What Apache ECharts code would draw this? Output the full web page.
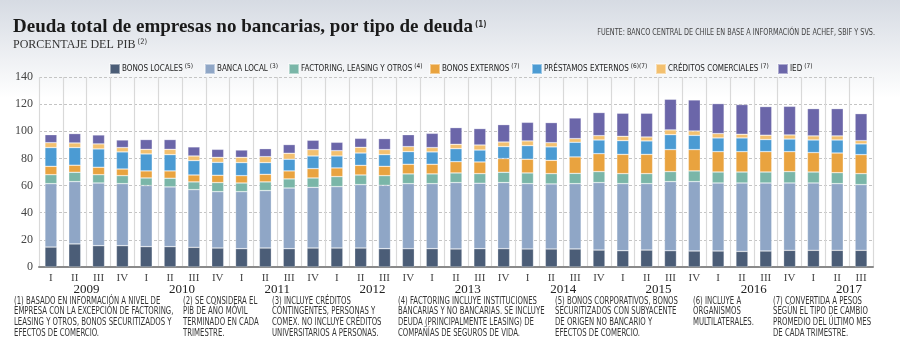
<!DOCTYPE html>
<html>
<head>
<meta charset="utf-8">
<script src="https://cdn.jsdelivr.net/npm/echarts@6/dist/echarts.min.js"></script>
<style>
  html, body { margin: 0; padding: 0; background: #fff; }
  #chart { width: 900px; height: 350px; }
</style>
</head>
<body>
<div id="chart"></div>
<script>
// trimestres 2009 I - 2017 III
const quarters = ['I','II','III','IV','I','II','III','IV','I','II','III','IV','I','II','III','IV','I','II','III','IV',
  'I','II','III','IV','I','II','III','IV','I','II','III','IV','I','II','III'];
const years = ['2009','2009','2009','2009','2010','2010','2010','2010','2011','2011','2011','2011','2012','2012','2012','2012',
  '2013','2013','2013','2013','2014','2014','2014','2014','2015','2015','2015','2015','2016','2016','2016','2016','2017','2017','2017'];

// porcentaje del PIB, por tipo de deuda
const bonosLocales = [14.7,17.0,15.7,15.7,15.0,15.0,14.5,14.0,13.5,14.0,13.5,14.0,14.0,14.0,13.5,13.5,
  13.5,13.3,13.5,13.5,13.3,13.3,13.3,12.5,12.0,12.5,12.0,11.8,11.8,11.5,11.8,12.3,12.3,12.3,12.3];
const bancaLocal = [46.7,45.9,46.2,45.7,45.0,44.0,42.5,41.5,42.0,42.3,44.7,44.7,45.2,46.7,46.7,47.9,
  47.9,48.9,48.2,48.7,48.1,47.9,48.1,49.7,49.4,48.9,50.9,51.1,50.1,50.4,50.1,49.6,49.6,49.1,48.4];
const factoring = [6.6,6.9,6.1,5.9,5.6,6.4,5.7,6.7,6.4,6.4,6.7,6.9,7.4,7.1,7.1,7.2,
  7.2,7.1,7.1,7.6,7.9,7.6,7.6,8.1,7.4,7.4,7.4,7.9,8.1,8.1,8.1,8.4,8.1,8.1,8.1];
const bonosExternos = [6.2,5.2,5.5,4.9,5.2,5.4,5.1,5.4,5.4,5.6,5.9,6.9,6.4,7.1,6.9,7.1,
  7.1,8.3,8.6,10.1,10.1,9.8,12.1,13.2,14.2,14.2,16.2,15.7,15.0,15.0,15.0,14.7,14.3,14.5,14.0];
const prestamosExternos = [13.8,13.0,13.5,12.6,12.5,12.0,10.6,9.5,9.6,8.6,8.6,9.3,8.8,9.1,8.6,9.3,
  9.1,9.6,8.8,8.8,10.0,9.9,10.8,10.1,10.1,9.9,11.0,10.5,10.1,10.1,8.9,9.3,9.3,9.6,7.9];
const creditosComerciales = [3.6,3.4,3.7,3.2,3.4,3.9,3.4,3.7,3.9,4.4,4.4,4.7,3.9,4.2,3.7,3.7,
  3.2,3.2,3.7,3.4,3.5,3.1,2.7,3.2,3.2,2.9,3.5,3.2,3.2,2.7,3.2,3.0,3.0,3.0,2.4];
const ied = [5.9,6.9,6.6,5.6,7.2,7.2,6.7,5.9,5.4,5.9,6.4,6.9,6.2,6.6,8.1,8.8,
  10.5,12.3,12.1,12.8,13.7,14.8,15.2,17.0,17.0,17.5,22.6,22.9,22.1,21.9,21.1,21.1,20.1,20.1,19.9];

const seriesNames = ['BONOS LOCALES','BANCA LOCAL','FACTORING, LEASING Y OTROS','BONOS EXTERNOS','PRÉSTAMOS EXTERNOS','CRÉDITOS COMERCIALES','IED'];
const seriesNotes = ['(5)','(3)','(4)','(7)','(6)(7)','(7)','(7)'];
const seriesColors = ['#4b5d77','#8fa6c6','#7ab6a8','#e9a33f','#4b9bd3','#f3c06f','#6b66a9'];
const seriesData = [bonosLocales, bancaLocal, factoring, bonosExternos, prestamosExternos, creditosComerciales, ied];
const legendX = [104, 199, 283, 424, 526, 650, 772];

const footnotes = [
  '(1) BASADO EN INFORMACIÓN A NIVEL DE\nEMPRESA CON LA EXCEPCIÓN DE FACTORING,\nLEASING Y OTROS, BONOS SECURITIZADOS Y\nEFECTOS DE COMERCIO.',
  '(2) SE CONSIDERA EL\nPIB DE AÑO MÓVIL\nTERMINADO EN CADA\nTRIMESTRE.',
  '(3) INCLUYE CRÉDITOS\nCONTINGENTES, PERSONAS Y\nCOMEX. NO INCLUYE CRÉDITOS\nUNIVERSITARIOS A PERSONAS.',
  '(4) FACTORING INCLUYE INSTITUCIONES\nBANCARIAS Y NO BANCARIAS. SE INCLUYE\nDEUDA (PRINCIPALMENTE LEASING) DE\nCOMPAÑÍAS DE SEGUROS DE VIDA.',
  '(5) BONOS CORPORATIVOS, BONOS\nSECURITIZADOS CON SUBYACENTE\nDE ORIGEN NO BANCARIO Y\nEFECTOS DE COMERCIO.',
  '(6) INCLUYE A\nORGANISMOS\nMULTILATERALES.',
  '(7) CONVERTIDA A PESOS\nSEGÚN EL TIPO DE CAMBIO\nPROMEDIO DEL ÚLTIMO MES\nDE CADA TRIMESTRE.'
];
const footnoteX = [14, 183, 272, 398, 555, 693, 773];
const fuente = 'FUENTE: BANCO CENTRAL DE CHILE EN BASE A INFORMACIÓN DE ACHEF, SBIF Y SVS.';

const narrow = '"Liberation Sans Narrow", "DejaVu Sans Condensed", sans-serif';
const serif = '"Liberation Serif", "DejaVu Serif", serif';

const chart = echarts.init(document.getElementById('chart'));

// una leyenda por serie para poder ubicarlas como en el original
const legends = seriesNames.map((name, k) => ({
  left: legendX[k], top: 58,
  itemWidth: 10, itemHeight: 10,
  icon: 'rect',
  data: [name],
  formatter: n => '{t|' + n + '}{s|' + seriesNotes[k] + '}',
  textStyle: {
    padding: [0, 0, 0, -3],
    rich: {
      t: { fontFamily: narrow, fontSize: 8, color: '#222' },
      s: { fontFamily: narrow, fontSize: 6.5, color: '#222', padding: [0, 0, 5, 2] }
    }
  }
}));

const option = {
  animation: false,
  title: [
    {
      left: 8, top: 13,
      text: '{t|Deuda total de empresas no bancarias, por tipo de deuda}{s|(1)}',
      textStyle: {
        rich: {
          t: { fontFamily: serif, fontWeight: 'bold', fontSize: 19, color: '#1a1a1a' },
          s: { fontFamily: narrow, fontSize: 8, color: '#333', padding: [0, 0, 6, 2] }
        }
      },
      subtext: '{t|PORCENTAJE DEL PIB}{s| (2)}',
      itemGap: 1,
      subtextStyle: {
        rich: {
          t: { fontFamily: serif, fontSize: 12, color: '#333' },
          s: { fontFamily: narrow, fontSize: 7.5, color: '#333', padding: [0, 0, 5, 0] }
        }
      }
    }
  ],
  legend: legends,
  grid: { left: 39, right: 27, top: 77, bottom: 83 },
  xAxis: [
    {
      type: 'category',
      data: quarters,
      axisLine: { lineStyle: { color: '#8a8a8a', width: 2 } },
      axisTick: { show: false },
      splitLine: { show: true, lineStyle: { color: '#d9d9d9', width: 1.2 } },
      axisLabel: { interval: 0, margin: 6, fontFamily: serif, fontSize: 11, color: '#444' }
    },
    {
      type: 'category',
      data: years,
      position: 'bottom',
      axisLine: { show: false },
      axisTick: { show: false },
      splitLine: { show: false },
      axisLabel: {
        interval: 0, margin: 16,
        fontFamily: serif, fontSize: 13, color: '#222',
        padding: [0, 24, 0, 0],
        formatter: (v, i) => (quarters[i] === 'III' ? v : '')
      }
    }
  ],
  yAxis: {
    type: 'value',
    min: 0, max: 140, interval: 20,
    axisLine: { show: false },
    axisTick: { show: false },
    axisLabel: { margin: 6, fontFamily: serif, fontSize: 12, color: '#444' },
    splitLine: { lineStyle: { color: '#c4c4c4', type: [3, 2], width: 1 } }
  },
  series: seriesNames.map((name, k) => ({
    name: name,
    type: 'bar',
    stack: 'total',
    barWidth: 12,
    data: seriesData[k],
    itemStyle: { color: seriesColors[k], borderColor: 'rgba(255,255,255,0.45)', borderWidth: 0.6 }
  })),
  graphic: [
    {
      type: 'rect', z: -10, silent: true,
      shape: { x: 0, y: 0, width: 900, height: 350 },
      style: {
        fill: new echarts.graphic.LinearGradient(0, 0, 0, 1, [
          { offset: 0, color: '#d6dbe3' },
          { offset: 0.28, color: '#ffffff' },
          { offset: 1, color: '#ffffff' }
        ])
      }
    },
    {
      type: 'text', x: 875, y: 28, scaleX: 0.8, silent: true,
      style: { text: fuente, align: 'right', fontFamily: narrow, fontSize: 9, fill: '#444' }
    }
  ].concat(footnotes.map((txt, i) => ({
    type: 'text', silent: true,
    x: footnoteX[i], y: 296, scaleX: 0.77,
    style: { text: txt, fontFamily: narrow, fontSize: 10, lineHeight: 10.6, fill: '#333' }
  })))
};

chart.setOption(option);
</script>
</body>
</html>
